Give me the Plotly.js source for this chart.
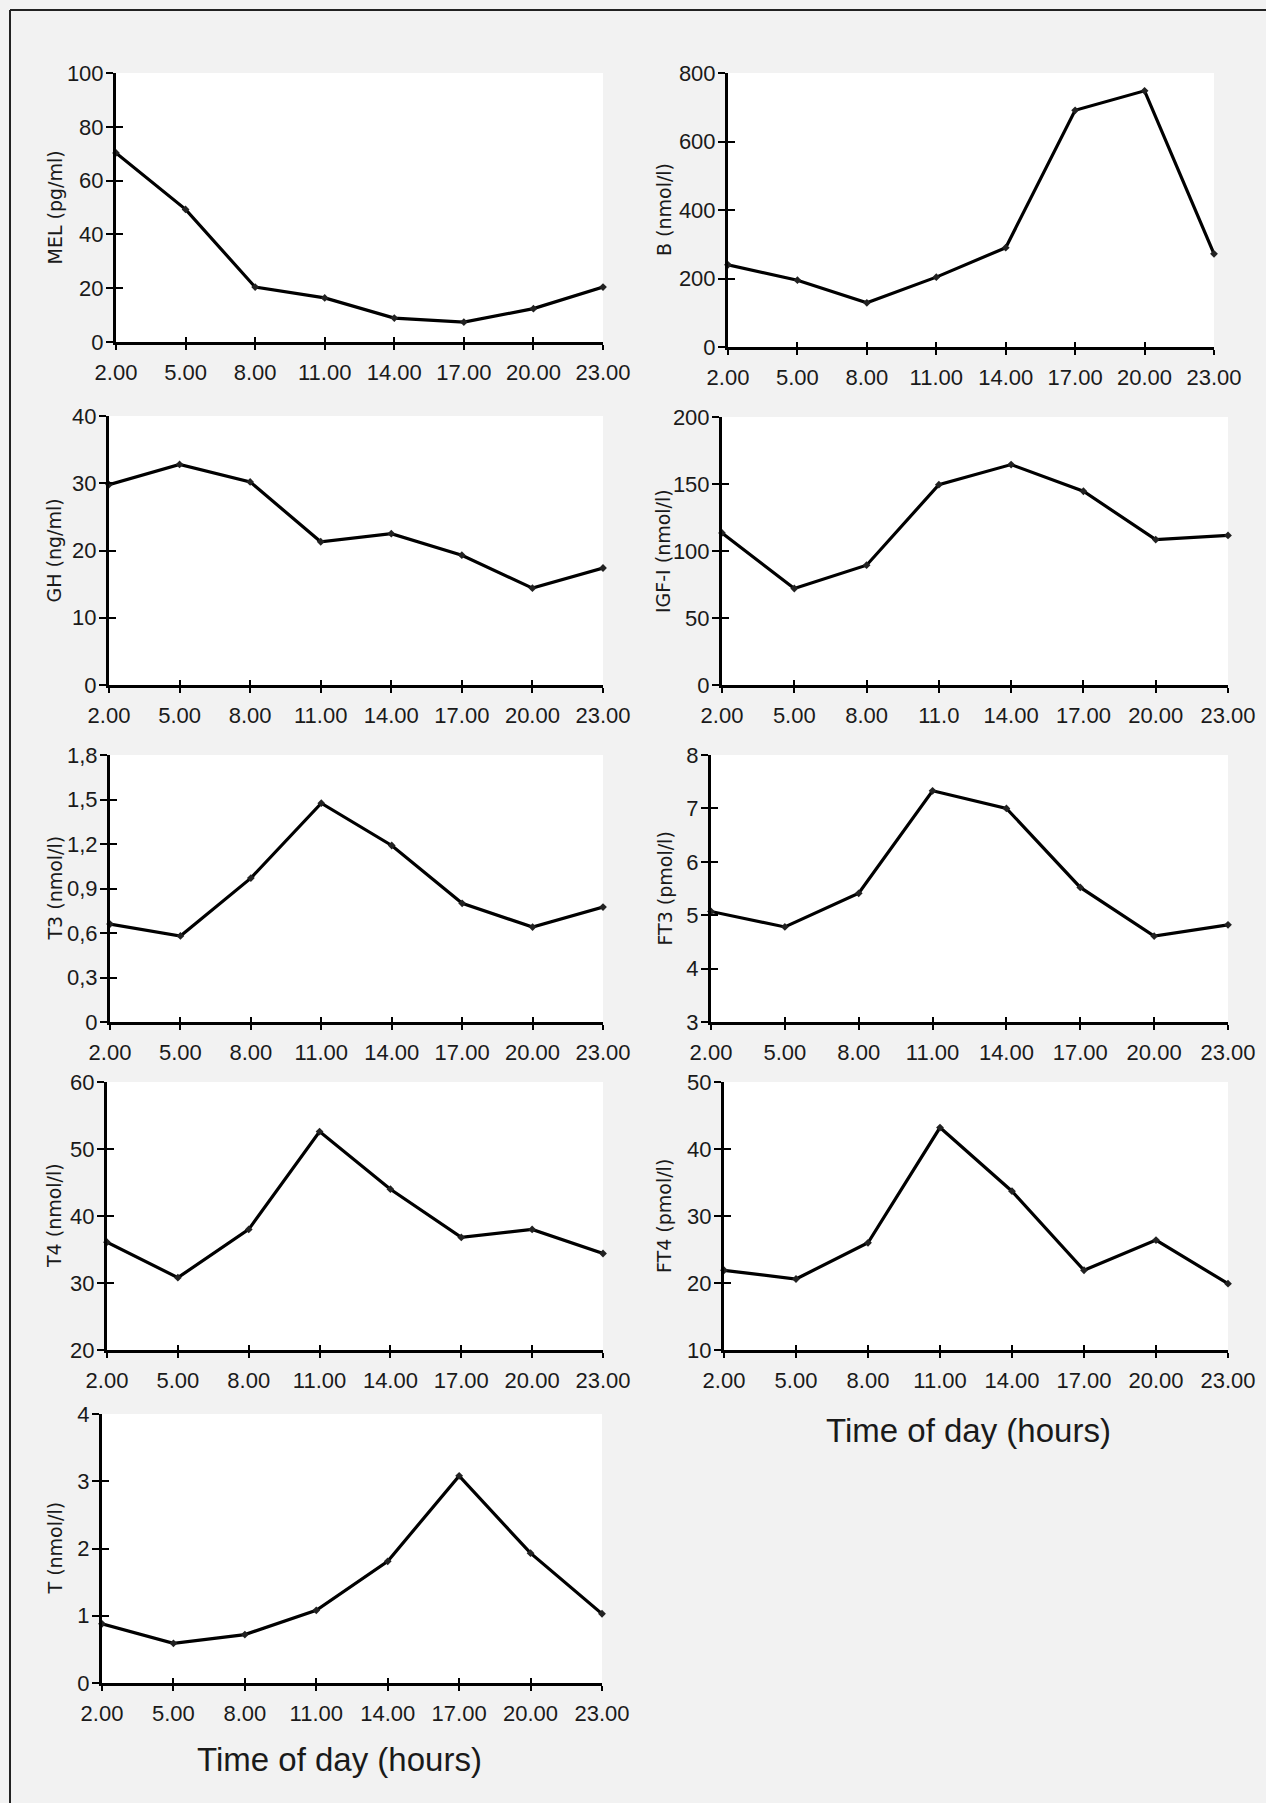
<!DOCTYPE html>
<html>
<head>
<meta charset="utf-8">
<script src="https://cdn.plot.ly/plotly-3.0.1.min.js"></script>
<style>
  html, body { margin: 0; padding: 0; background: #f2f2f2; }
  #chart { width: 1266px; height: 1803px; }
</style>
</head>
<body>
<div id="chart"></div>
<script>
// ---------- data ----------
const hours = [2, 5, 8, 11, 14, 17, 20, 23];
const hourLabels = ['2.00', '5.00', '8.00', '11.00', '14.00', '17.00', '20.00', '23.00'];
const hourLabelsIGF = ['2.00', '5.00', '8.00', '11.0', '14.00', '17.00', '20.00', '23.00'];

const MEL  = [70.3, 49.3, 20.4, 16.4, 8.9, 7.4, 12.4, 20.4];
const B    = [240, 195, 129, 204, 290, 691, 748, 272];
const GH   = [29.8, 32.8, 30.2, 21.3, 22.5, 19.3, 14.4, 17.4];
const IGF  = [113.5, 72, 89.4, 149.5, 164.5, 144.6, 108.5, 111.6];
const T3   = [0.66, 0.58, 0.97, 1.475, 1.19, 0.80, 0.64, 0.775];
const FT3  = [5.07, 4.78, 5.41, 7.33, 7.0, 5.52, 4.61, 4.82];
const T4   = [36.1, 30.8, 38.0, 52.6, 44.0, 36.8, 38.0, 34.4];
const FT4  = [21.9, 20.6, 26.0, 43.2, 33.7, 21.9, 26.4, 19.9];
const T    = [0.88, 0.59, 0.72, 1.08, 1.81, 3.08, 1.93, 1.03];

const ticksMEL = [0, 20, 40, 60, 80, 100];
const ticksB   = [0, 200, 400, 600, 800];
const ticksGH  = [0, 10, 20, 30, 40];
const ticksIGF = [0, 50, 100, 150, 200];
const ticksT3  = [0, 0.3, 0.6, 0.9, 1.2, 1.5, 1.8];
const ticksT3Text = ['0', '0,3', '0,6', '0,9', '1,2', '1,5', '1,8'];
const ticksFT3 = [3, 4, 5, 6, 7, 8];
const ticksT4  = [20, 30, 40, 50, 60];
const ticksFT4 = [10, 20, 30, 40, 50];
const ticksT   = [0, 1, 2, 3, 4];

const titles = ['MEL (pg/ml)', 'B (nmol/l)', 'GH (ng/ml)', 'IGF-I (nmol/l)', 'T3 (nmol/l)',
                'FT3 (pmol/l)', 'T4 (nmol/l)', 'FT4 (pmol/l)', 'T (nmol/l)'];
const xTitle = 'Time of day (hours)';

// ---------- layout (pixel boxes) ----------
const W = 1266, H = 1803;
const panels = [
  {y: MEL, tv: ticksMEL, tt: null, xl: hourLabels, box: [116, 603, 73, 342], tx: 54},
  {y: B,   tv: ticksB,   tt: null, xl: hourLabels, box: [728, 1214, 73, 347], tx: 664},
  {y: GH,  tv: ticksGH,  tt: null, xl: hourLabels, box: [109, 603, 416, 685], tx: 54},
  {y: IGF, tv: ticksIGF, tt: null, xl: hourLabelsIGF, box: [722, 1228, 417, 685], tx: 663},
  {y: T3,  tv: ticksT3,  tt: ticksT3Text, xl: hourLabels, box: [110, 603, 755, 1022], tx: 54},
  {y: FT3, tv: ticksFT3, tt: null, xl: hourLabels, box: [711, 1228, 755, 1022], tx: 664},
  {y: T4,  tv: ticksT4,  tt: null, xl: hourLabels, box: [107, 603, 1082, 1350], tx: 54},
  {y: FT4, tv: ticksFT4, tt: null, xl: hourLabels, box: [724, 1228, 1082, 1350], tx: 664},
  {y: T,   tv: ticksT,   tt: null, xl: hourLabels, box: [102, 602, 1414, 1683], tx: 54}
];

const FONT = 'Liberation Sans, Arial, sans-serif';
const TFONT = 'DejaVu Sans, Verdana, sans-serif';
const INK = '#1a1a1a';
const traces = [];
const layout = {
  width: W, height: H,
  margin: {l: 0, r: 0, t: 0, b: 0},
  paper_bgcolor: '#f2f2f2',
  plot_bgcolor: '#ffffff',
  showlegend: false,
  font: {family: FONT, color: INK, size: 22},
  annotations: [],
  shapes: [
    {type: 'line', xref: 'paper', yref: 'paper', x0: 10 / W, x1: 1, y0: 1 - 10 / H, y1: 1 - 10 / H,
     line: {color: '#222', width: 2}},
    {type: 'line', xref: 'paper', yref: 'paper', x0: 10 / W, x1: 10 / W, y0: 0, y1: 1 - 10 / H,
     line: {color: '#222', width: 2}}
  ]
};

const N = panels.length;
panels.forEach((p, i) => {
  const k = i + 1, ko = i + 1 + N;
  const [x0, x1, yt, yb] = p.box;
  const xd = [x0 / W, x1 / W];
  const yd = [1 - yb / H, 1 - yt / H];
  const yr = [p.tv[0], p.tv[p.tv.length - 1]];

  traces.push({
    x: hours, y: p.y, xaxis: 'x' + k, yaxis: 'y' + k,
    type: 'scatter', mode: 'lines+markers',
    line: {color: '#000', width: 3.2},
    marker: {symbol: 'diamond', size: 6, color: '#222'},
    cliponaxis: false, hoverinfo: 'x+y'
  });
  // dummy trace for overlay axes (crossing ticks)
  traces.push({
    x: [hours[0]], y: [yr[0]], xaxis: 'x' + ko, yaxis: 'y' + ko,
    type: 'scatter', mode: 'markers', marker: {opacity: 0}, hoverinfo: 'skip'
  });

  layout['xaxis' + k] = {
    domain: xd, anchor: 'y' + k, range: [2, 23], fixedrange: true,
    tickmode: 'array', tickvals: hours, ticktext: p.xl,
    ticks: 'outside', ticklen: 5, tickwidth: 2, tickcolor: '#000',
    ticklabelstandoff: 4,
    showline: true, linecolor: '#000', linewidth: 3,
    showgrid: false, zeroline: false,
    tickfont: {family: FONT, size: 22, color: INK}
  };
  layout['yaxis' + k] = {
    domain: yd, anchor: 'x' + k, range: yr, fixedrange: true,
    tickmode: 'array', tickvals: p.tv, ticktext: p.tt ? p.tt : p.tv.map(String),
    ticks: 'outside', ticklen: 7, tickwidth: 2, tickcolor: '#000',
    ticklabelstandoff: -2,
    showline: true, linecolor: '#000', linewidth: 3,
    showgrid: false, zeroline: false,
    tickfont: {family: FONT, size: 22, color: INK}
  };
  layout['xaxis' + ko] = {
    overlaying: 'x' + k, anchor: 'y' + k, range: [2, 23], fixedrange: true,
    tickmode: 'array', tickvals: hours, showticklabels: false,
    ticks: 'inside', ticklen: 5, tickwidth: 2, tickcolor: '#000',
    showline: false, showgrid: false, zeroline: false
  };
  layout['yaxis' + ko] = {
    overlaying: 'y' + k, anchor: 'x' + k, range: yr, fixedrange: true,
    tickmode: 'array', tickvals: p.tv, showticklabels: false,
    ticks: 'inside', ticklen: 7, tickwidth: 2, tickcolor: '#000',
    showline: false, showgrid: false, zeroline: false
  };

  layout.annotations.push({
    text: titles[i], xref: 'paper', yref: 'paper',
    x: p.tx / W, y: 1 - ((yt + yb) / 2) / H,
    xanchor: 'center', yanchor: 'middle', textangle: -90, showarrow: false,
    font: {family: TFONT, size: 19, color: INK}
  });
});

// "Time of day (hours)" labels
layout.annotations.push({
  text: xTitle, xref: 'paper', yref: 'paper', x: 968 / W, y: 1 - 1430 / H,
  xanchor: 'center', yanchor: 'middle', showarrow: false,
  font: {family: FONT, size: 33, color: INK}
});
layout.annotations.push({
  text: xTitle, xref: 'paper', yref: 'paper', x: 339 / W, y: 1 - 1759 / H,
  xanchor: 'center', yanchor: 'middle', showarrow: false,
  font: {family: FONT, size: 33, color: INK}
});

Plotly.newPlot('chart', traces, layout, {displayModeBar: false, staticPlot: true});
</script>
</body>
</html>
